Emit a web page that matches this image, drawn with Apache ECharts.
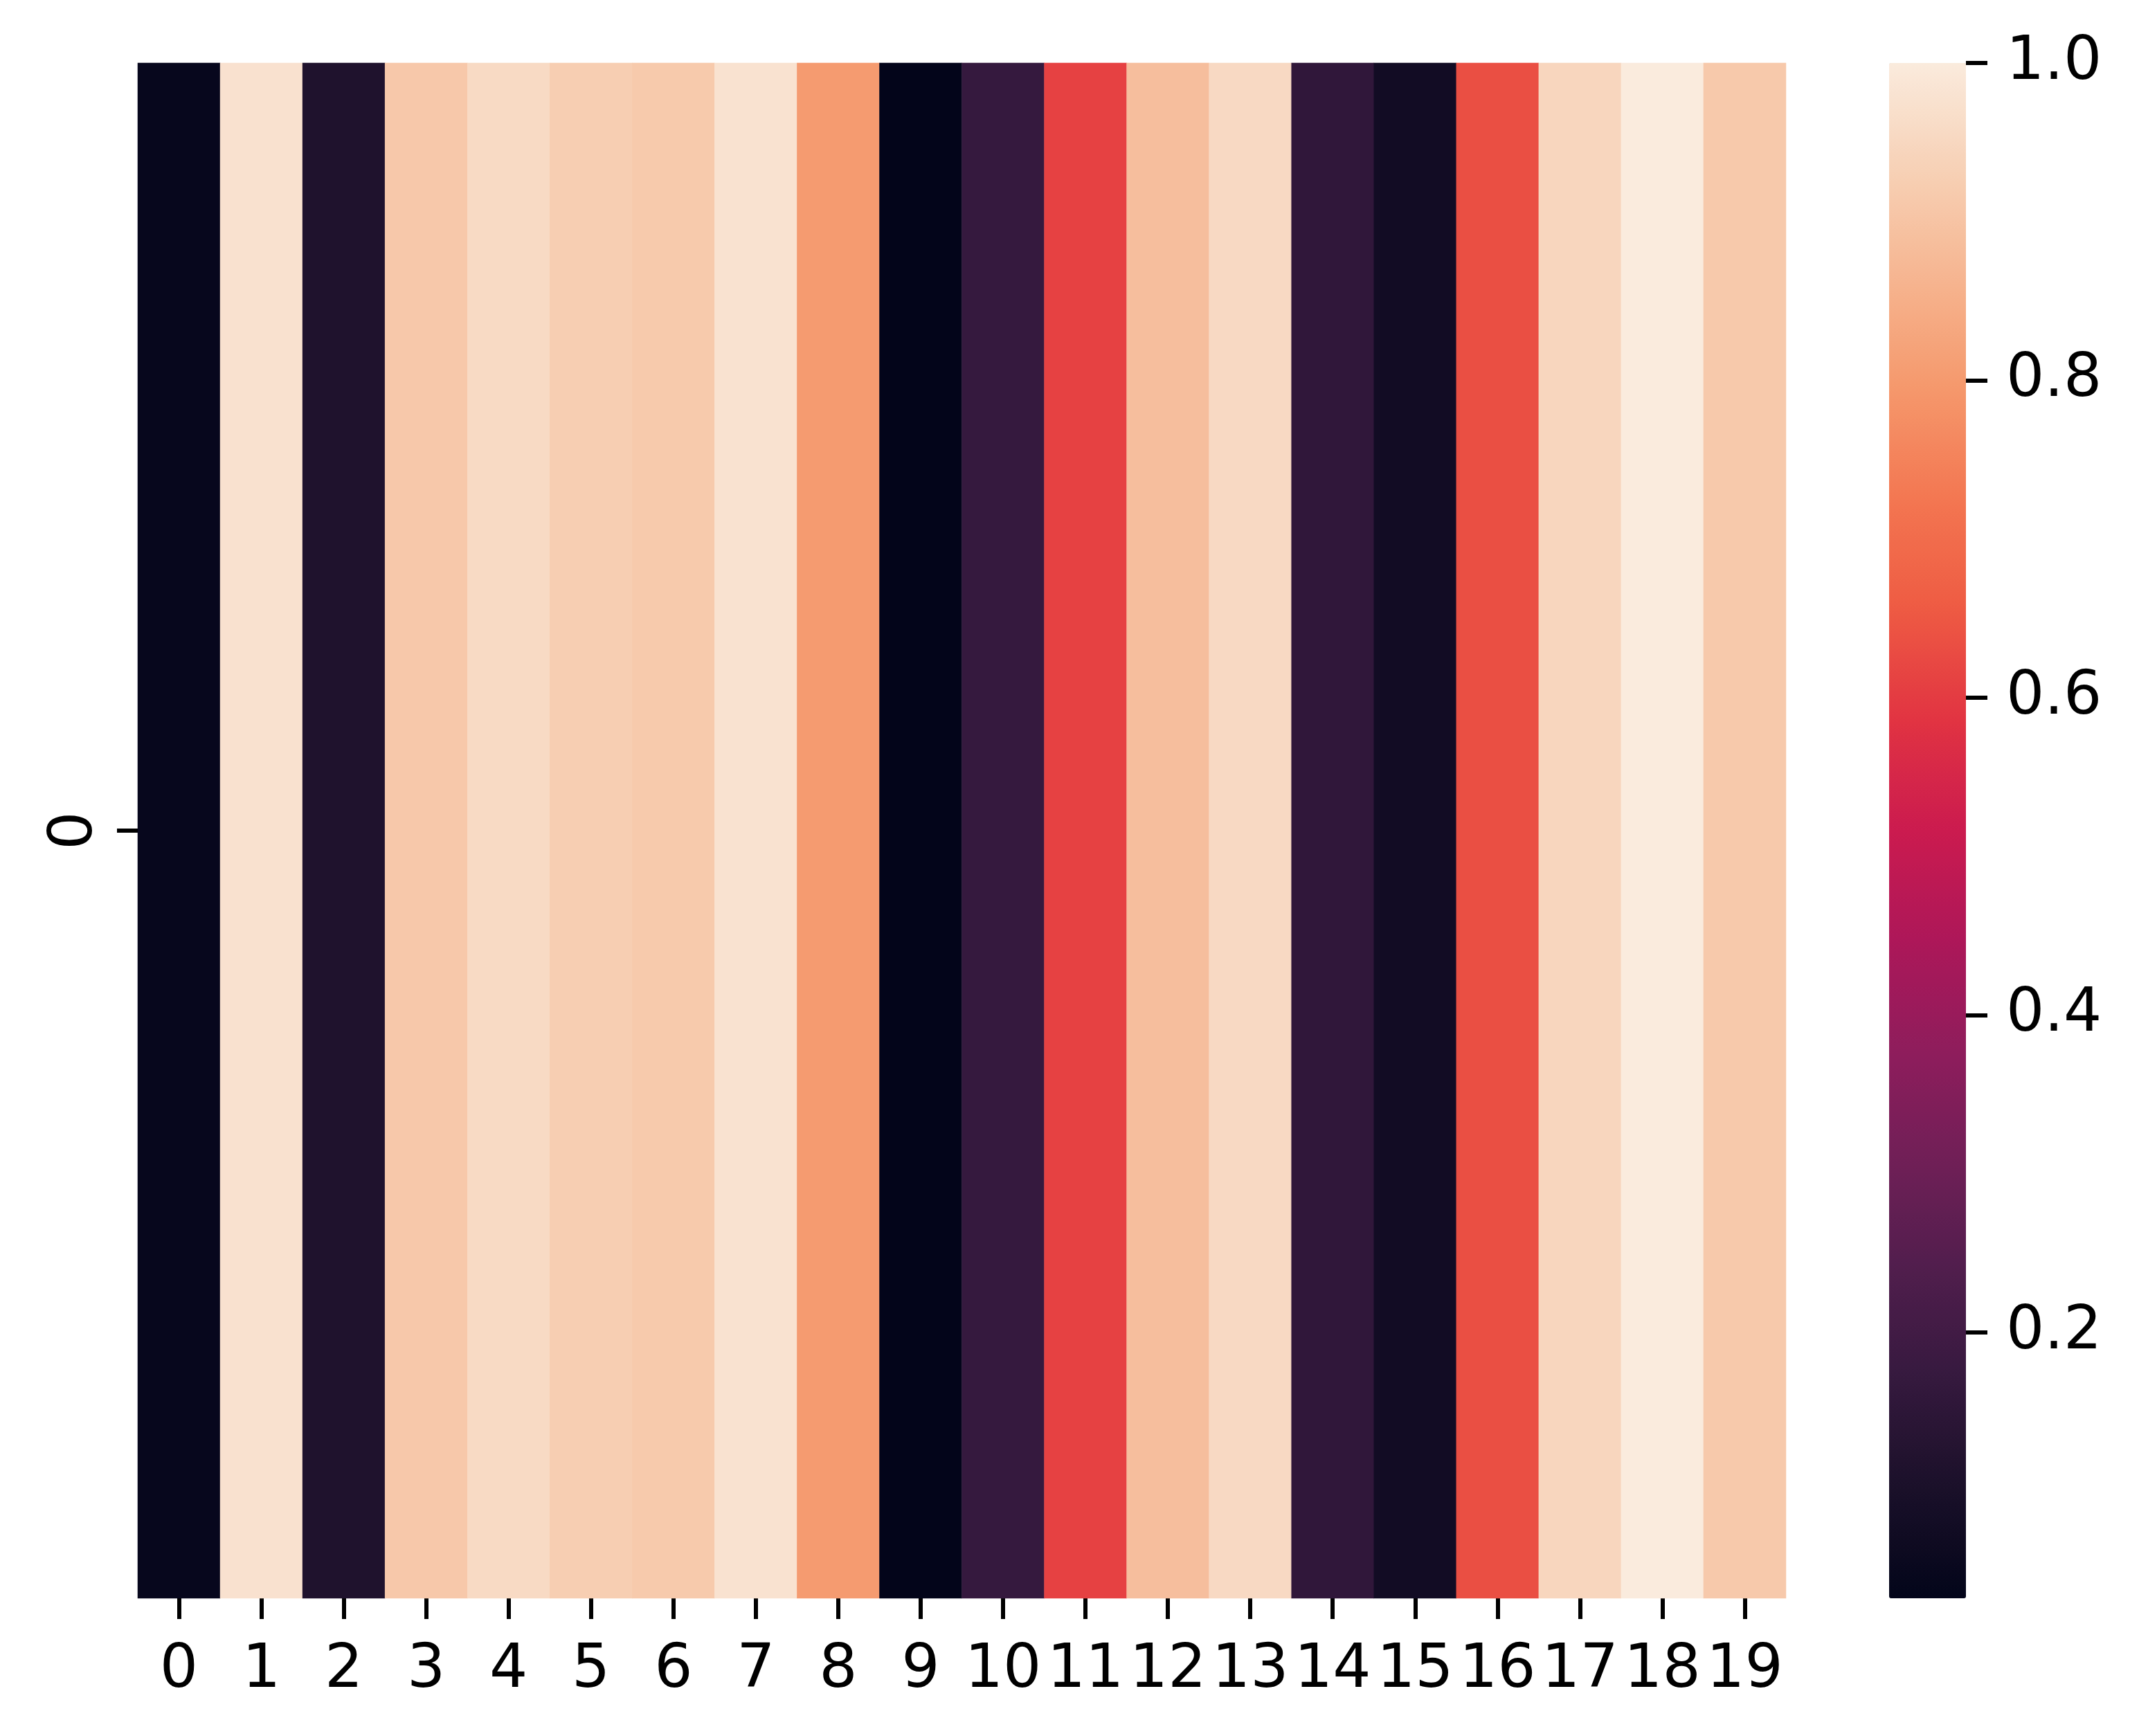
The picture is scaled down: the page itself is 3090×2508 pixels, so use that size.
<!DOCTYPE html>
<html>
<head>
<meta charset="utf-8">
<script src="https://cdn.jsdelivr.net/npm/echarts@6/dist/echarts.min.js"></script>
<style>
  html, body { margin: 0; padding: 0; background: #fff; }
  #chart { width: 3090px; height: 2508px; }
</style>
</head>
<body>
<div id="chart"></div>
<script>
const columns = ["0", "1", "2", "3", "4", "5", "6", "7", "8", "9",
  "10", "11", "12", "13", "14", "15", "16", "17", "18", "19"];
const rows = ["0"];
const values = [0.045, 0.975, 0.115, 0.911, 0.957, 0.926, 0.915, 0.978, 0.803, 0.0325,
  0.171, 0.611, 0.887, 0.955, 0.159, 0.077, 0.635, 0.947, 1.0, 0.913];
const colorTicks = [0.2, 0.4, 0.6, 0.8, 1.0];
const vmin = 0.0325;
const vmax = 1.0;

// seaborn "rocket", sampled evenly
const rocket = ["#03051a", "#1a1029", "#35193e", "#511e4d", "#701f57", "#8f1d5c",
  "#ad1759", "#cb1b4f", "#e13342", "#ee5a43", "#f37651", "#f5976b",
  "#f6b48f", "#f7d0b5", "#faebdd"];

const font = "DejaVu Sans";
const labelStyle = { color: "#000", fontSize: 87, fontFamily: font };
const tickStyle = { color: "#000", width: 6 };
// keep the axis line (ticks hang off it) but make it invisible
const hiddenLine = { show: true, onZero: false, lineStyle: { color: "#000", opacity: 0 } };

const chart = echarts.init(document.getElementById("chart"));
chart.setOption({
  backgroundColor: "#fff",
  animation: false,
  grid: [
    { left: 199, top: 91, width: 2381, height: 2218 },
    { left: 2729, top: 91, width: 111, height: 2218 },
  ],
  xAxis: [
    {
      type: "category",
      data: columns,
      gridIndex: 0,
      axisLine: hiddenLine,
      axisTick: { show: true, alignWithLabel: true, length: 30, lineStyle: tickStyle },
      axisLabel: { ...labelStyle, margin: 62, interval: 0 },
      splitLine: { show: false },
    },
    { type: "value", gridIndex: 1, show: false, min: 0, max: 1 },
  ],
  yAxis: [
    {
      type: "category",
      data: rows,
      gridIndex: 0,
      axisLine: hiddenLine,
      axisTick: { show: true, alignWithLabel: true, length: 30, lineStyle: tickStyle },
      axisLabel: { ...labelStyle, rotate: 90, margin: 46 },
      splitLine: { show: false },
    },
    {
      type: "value",
      gridIndex: 1,
      position: "right",
      min: vmin,
      max: vmax,
      axisLine: hiddenLine,
      splitLine: { show: false },
      axisTick: { show: true, length: 31, lineStyle: tickStyle, customValues: colorTicks },
      axisLabel: {
        ...labelStyle,
        margin: 58,
        customValues: colorTicks,
        formatter: (v) => v.toFixed(1),
      },
    },
  ],
  visualMap: {
    type: "continuous",
    seriesIndex: 0,
    min: vmin,
    max: vmax,
    orient: "vertical",
    left: 2729,
    top: 91,
    itemWidth: 111,
    itemHeight: 2218,
    padding: 0,
    calculable: false,
    hoverLink: false,
    showLabel: false,
    text: null,
    inRange: { color: rocket },
  },
  series: [
    {
      type: "heatmap",
      xAxisIndex: 0,
      yAxisIndex: 0,
      data: values.map((v, i) => [i, 0, v]),
      itemStyle: { borderWidth: 0 },
      emphasis: { disabled: true },
      progressive: 0,
    },
  ],
});
</script>
</body>
</html>
